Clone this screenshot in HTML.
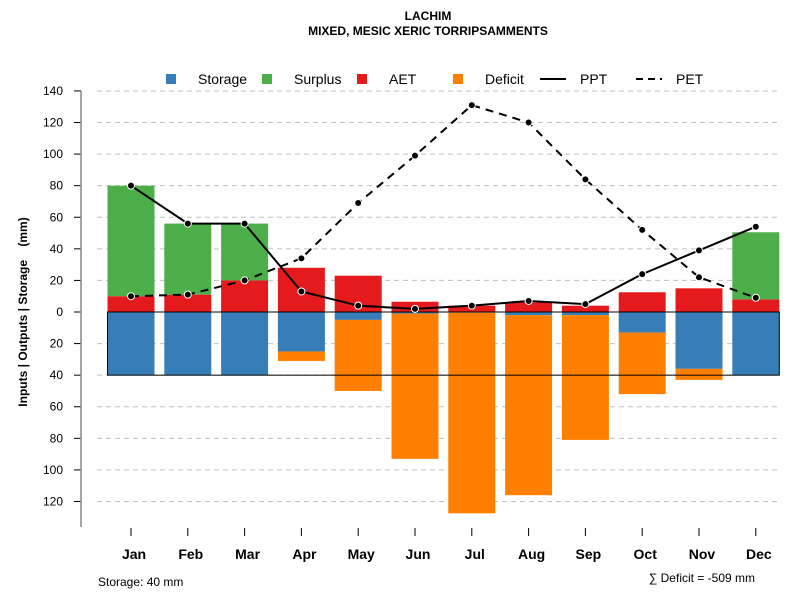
<!DOCTYPE html>
<html><head><meta charset="utf-8"><style>body{margin:0;background:#fff}svg{display:block;font-family:"Liberation Sans",sans-serif}</style></head>
<body>
<svg id="c" width="800" height="600" xmlns="http://www.w3.org/2000/svg">
<text x="428" y="20" text-anchor="middle" font-size="12" font-weight="bold">LACHIM</text>
<text x="428" y="35" text-anchor="middle" font-size="12" font-weight="bold">MIXED, MESIC XERIC TORRIPSAMMENTS</text>
<g font-size="14">
<rect x="166" y="74" width="10" height="10" fill="#377eb8"/><text x="198" y="84">Storage</text>
<rect x="262" y="74" width="10" height="10" fill="#4daf4a"/><text x="294" y="84">Surplus</text>
<rect x="357" y="74" width="10" height="10" fill="#e41a1c"/><text x="389" y="84">AET</text>
<rect x="453" y="74" width="10" height="10" fill="#ff7f00"/><text x="485" y="84">Deficit</text>
<line x1="540" y1="79" x2="566" y2="79" stroke="#000" stroke-width="2"/><text x="580" y="84">PPT</text>
<line x1="636" y1="79" x2="662" y2="79" stroke="#000" stroke-width="2" stroke-dasharray="7,5"/><text x="676" y="84">PET</text>
</g>
<text transform="translate(27,312) rotate(-90)" text-anchor="middle" font-size="12" font-weight="bold" style="white-space:pre">Inputs | Outputs | Storage    (mm)</text>
<text x="98" y="586" font-size="12">Storage: 40 mm</text>
<text x="755" y="582" text-anchor="end" font-size="12">∑ Deficit = -509 mm</text>
<g id="grid"></g><g id="bars"></g><g id="lines"></g><g id="axes"></g>
</svg>
<script>
const months=["Jan","Feb","Mar","Apr","May","Jun","Jul","Aug","Sep","Oct","Nov","Dec"];
const aet=[10,11,20,28,23,6.5,4,6,4,12.5,15,8];
const surplus=[70,45,36,0,0,0,0,0,0,0,0,42.5];
const storage=[40,40,40,25,5,1,0.5,2,2,13,36,40];
const deficit=[0,0,0,6,45,92,127,114,79,39,7,0];
const ppt=[80,56,56,13,4,2,4,7,5,24,39,54];
const pet=[10,11,20,34,69,99,131,120,84,52,22,9];
const yTicks=[140,120,100,80,60,40,20,0,-20,-40,-60,-80,-100,-120];
const NS="http://www.w3.org/2000/svg";
const y=v=>312-v*1.579;
const x=i=>131+i*56.8;
const bw=47;
function mk(p,t,a){const e=document.createElementNS(NS,t);for(const k in a)e.setAttribute(k,a[k]);document.getElementById(p).appendChild(e);return e;}
yTicks.forEach(t=>{
 if(t!==0){const g=mk('grid','line',{x1:97,x2:780,y1:y(t),y2:y(t),stroke:'#c0c0c0','stroke-dasharray':'5,4'});
 
 }
 const tk=mk('axes','line',{x1:74,x2:81,y1:y(t),y2:y(t),stroke:'#000'});
 
 
 const tl=mk('axes','text',{x:63,y:y(t)+4,'text-anchor':'end','font-size':12});
 tl.textContent=Math.abs(t);
 
 
});
const ax=mk('axes','line',{x1:81,x2:81,y1:y(140),y2:527,stroke:'#888','stroke-width':1.5});


months.forEach((m,i)=>{
 const cx=x(i),l=cx-bw/2;
 const r=(c,a,b,n)=>{const e=mk('bars','rect',{x:l,y:y(Math.max(a,b)),width:bw,height:Math.abs(y(a)-y(b)),fill:c});
  
  };
 r('#e41a1c',0,aet[i],'aet');
 if(surplus[i]>0)r('#4daf4a',aet[i],aet[i]+surplus[i],'surplus');
 r('#377eb8',0,-storage[i],'storage');
 if(deficit[i]>0)r('#ff7f00',-storage[i],-storage[i]-deficit[i],'deficit');
 const tk=mk('axes','line',{x1:cx,x2:cx,y1:528,y2:536,stroke:'#000'});
 
 
 const tl=mk('axes','text',{x:cx+3,y:559,'text-anchor':'middle','font-size':14,'font-weight':'bold'});
 tl.textContent=m;
 
 
});
const box=mk('bars','rect',{x:x(0)-bw/2,y:y(0),width:x(11)+bw/2-(x(0)-bw/2),height:y(-40)-y(0),fill:'none',stroke:'#000'});


function series(d,dash,n){
 const p=mk('lines','polyline',{points:d.map((v,i)=>x(i)+','+y(v)).join(' '),fill:'none',stroke:'#000','stroke-width':2,'stroke-dasharray':dash});
 
 
 d.forEach((v,i)=>{const c=mk('lines','circle',{cx:x(i),cy:y(v),r:3.5,fill:'#000',stroke:'#fff','stroke-width':1});
  
  });
}
series(ppt,'none','ppt');
series(pet,'8,6','pet');
</script>
</body></html>
